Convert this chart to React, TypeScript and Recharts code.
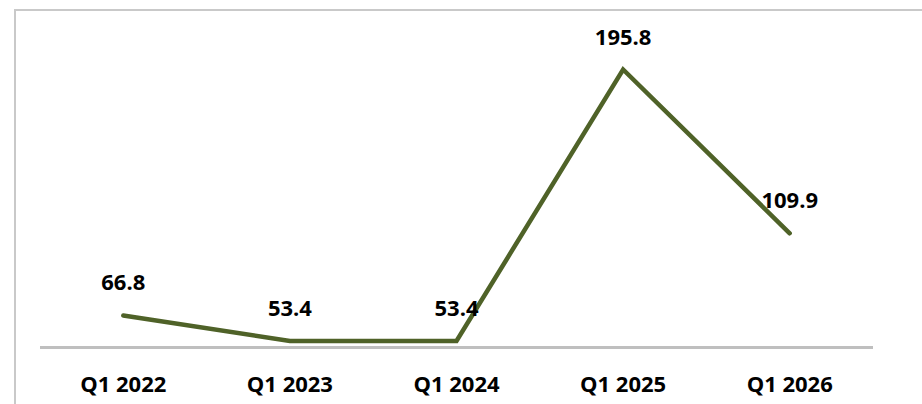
import { LabelList, Line, LineChart, XAxis, YAxis } from "recharts";

const quarters = ["Q1 2022", "Q1 2023", "Q1 2024", "Q1 2025", "Q1 2026"];
const values = [66.8, 53.4, 53.4, 195.8, 109.9];

const FONT = "'Open Sans', Calibri, sans-serif";

export default function App() {
  const data = quarters.map((q, i) => ({ quarter: q, value: values[i] }));

  return (
    <div
      style={{
        position: "fixed",
        left: 0,
        top: 0,
        width: 922,
        height: 404,
        overflow: "hidden",
        background: "#fff",
      }}
    >
      {/* chart frame, cut off at the right and bottom like the source */}
      <div
        style={{
          position: "absolute",
          left: 14,
          top: 9,
          width: 1000,
          height: 500,
          borderTop: "2px solid #c9c9c9",
          borderLeft: "2px solid #c9c9c9",
        }}
      />
      <div style={{ position: "absolute", left: 0, top: 0 }}>
        <LineChart
          width={922}
          height={404}
          data={data}
          margin={{ top: 61.5, right: 49, bottom: 16.5, left: 40 }}
        >
          <XAxis
            dataKey="quarter"
            height={40}
            padding={{ left: 83.3, right: 83.3 }}
            axisLine={{ stroke: "#bfbfbf", strokeWidth: 3 }}
            tickLine={false}
            tickSize={0}
            tickMargin={28.6}
            tick={{ fill: "#000", fontSize: 22, fontWeight: 700, fontFamily: FONT }}
          />
          <YAxis hide domain={[50, 200]} />
          <Line
            type="linear"
            dataKey="value"
            stroke="#4f6228"
            strokeWidth={4.5}
            strokeLinecap="round"
            strokeLinejoin="miter"
            dot={false}
            activeDot={false}
            isAnimationActive={false}
          >
            <LabelList
              dataKey="value"
              position="top"
              offset={25}
              formatter={(v: number) => v.toFixed(1)}
              style={{ fill: "#000", fontSize: 22, fontWeight: 700, fontFamily: FONT }}
            />
          </Line>
        </LineChart>
      </div>
    </div>
  );
}
